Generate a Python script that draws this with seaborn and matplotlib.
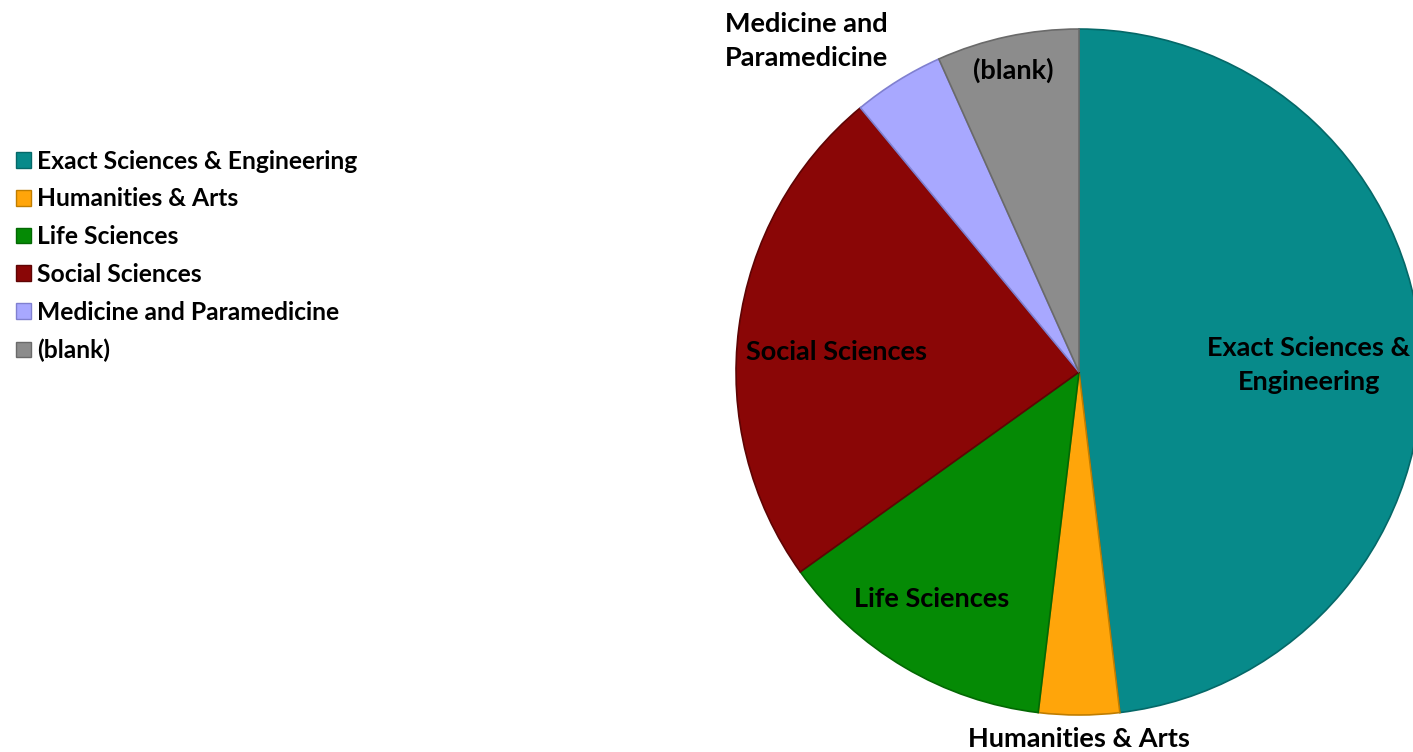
import matplotlib
matplotlib.use('Agg')
import matplotlib.pyplot as plt
import seaborn as sns
import numpy as np
from matplotlib.patches import Patch

# fields and their share of the pie (percent)
fields = ["Exact Sciences & Engineering", "Humanities & Arts", "Life Sciences",
          "Social Sciences", "Medicine and Paramedicine", "(blank)"]
shares = [48.1, 3.8, 13.2, 23.9, 4.3, 6.7]
slice_labels = ["Exact Sciences &\nEngineering", "Humanities & Arts", "Life Sciences",
                "Social Sciences", "Medicine and\nParamedicine", "(blank)"]

colors = sns.color_palette(["#078a8a", "#ffa50a", "#058a05", "#8a0606", "#a8a8ff", "#8c8c8c"])
edges = ["#056868", "#c07d00", "#036803", "#5e0404", "#8080d0", "#6a6a6a"]

sns.set_theme(style="white")
plt.rcParams['font.family'] = ['Lato', 'DejaVu Sans']
plt.rcParams['font.weight'] = 'bold'
plt.rcParams['text.color'] = 'black'

fig = plt.figure(figsize=(14.13, 7.52), dpi=100)
# square axes so the pie sits on the right and runs slightly off the edge
ax = fig.add_axes([0.5209, 0.0492, 0.4855, 0.9122])
wedges, _ = ax.pie(shares, colors=colors, startangle=90, counterclock=False,
                   wedgeprops=dict(linewidth=1.2), radius=1.0)
for w, ec in zip(wedges, edges):
    w.set_edgecolor(ec)
ax.set_xlim(-1, 1)
ax.set_ylim(-1, 1)
ax.set_aspect('auto')
ax.axis('off')

# label placement: distance from centre (fraction of radius) and angle nudge (deg)
label_dist = [0.67, 1.07, 0.79, 0.71, 1.25, 0.90]
label_nudge = [-1.6, 0, -2.4, 2.7, 7.6, 0.3]
for w, lab, d, n in zip(wedges, slice_labels, label_dist, label_nudge):
    mid = np.deg2rad((w.theta1 + w.theta2) / 2 + n)
    ax.text(d * np.cos(mid), d * np.sin(mid), lab, ha='center', va='center',
            fontsize=19.5, fontweight='bold', color='black', linespacing=1.5,
            clip_on=False)

handles = [Patch(facecolor=c, edgecolor=e, label=f) for f, c, e in zip(fields, colors, edges)]
leg = fig.legend(handles=handles, loc='upper left', bbox_to_anchor=(0.0045, 0.814),
                 frameon=False, fontsize=17.7, handlelength=0.6, handleheight=0.6,
                 handletextpad=0.25, labelspacing=0.6, borderaxespad=0)
for t in leg.get_texts():
    t.set_color('black')

fig.savefig('out.png', dpi=100)
